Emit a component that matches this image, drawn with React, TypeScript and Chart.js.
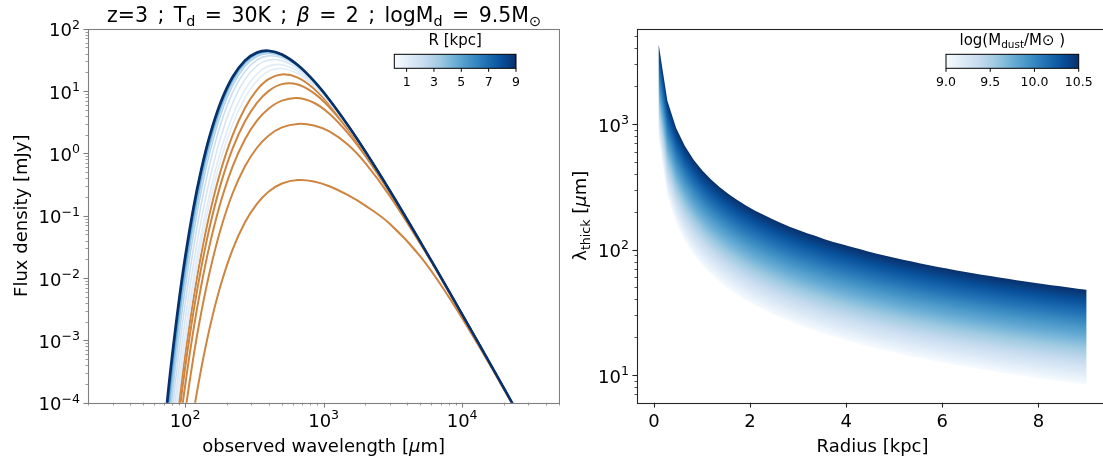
import React, { useEffect, useRef } from "react";
import { Chart, registerables } from "chart.js";

Chart.register(...registerables);

/* ================= Left panel: SEDs (z=3, Td=30K, beta=2, logMd=9.5) ================= */
const WAVELENGTH_UM = [70, 75, 80, 90, 100, 115, 130, 150, 180, 220, 270, 330, 400, 500, 650, 850, 1100, 1500, 2000, 3000, 5000, 8000, 13000, 20000, 30000];

// highlighted (orange) radii
const ORANGE_RADII_KPC = [0.1, 0.282, 0.463, 0.645, 0.827];
const FLUX_R0100 = [6.78e-9, 3.44e-8, 1.4e-7, 1.41e-6, 8.71e-6, 6.99e-5, 3.3e-4, 1.54e-3, 7.5e-3, 0.0286, 0.0778, 0.155, 0.243, 0.329, 0.374, 0.355, 0.297, 0.213, 0.145, 0.0742, 0.0221, 4.98e-3, 8.58e-4, 1.65e-4, 3.37e-5];
const FLUX_R0282 = [5.38e-8, 2.73e-7, 1.11e-6, 1.12e-5, 6.91e-5, 5.54e-4, 2.62e-3, 0.0122, 0.0595, 0.227, 0.617, 1.23, 1.92, 2.61, 2.97, 2.8, 2.25, 1.37, 0.696, 0.208, 0.0351, 6.04e-3, 9.25e-4, 1.7e-4, 3.42e-5];
const FLUX_R0463 = [1.46e-7, 7.38e-7, 3.01e-6, 3.03e-5, 1.87e-4, 1.5e-3, 7.09e-3, 0.0331, 0.161, 0.614, 1.67, 3.34, 5.21, 7.02, 7.73, 6.49, 4.33, 2.1, 0.906, 0.235, 0.0367, 6.15e-3, 9.32e-4, 1.71e-4, 3.43e-5];
const FLUX_R0645 = [2.82e-7, 1.43e-6, 5.83e-6, 5.86e-5, 3.62e-4, 2.91e-3, 0.0137, 0.0641, 0.312, 1.19, 3.24, 6.46, 9.98, 12.9, 12.7, 9.25, 5.49, 2.4, 0.981, 0.244, 0.0372, 6.18e-3, 9.34e-4, 1.71e-4, 3.43e-5];
const FLUX_R0827 = [4.63e-7, 2.35e-6, 9.58e-6, 9.63e-5, 5.95e-4, 4.77e-3, 0.0226, 0.105, 0.513, 1.95, 5.3, 10.4, 15.5, 18.5, 16.4, 10.9, 6.1, 2.55, 1.01, 0.248, 0.0374, 6.19e-3, 9.34e-4, 1.71e-4, 3.43e-5];

// blue family (colour-coded by R)
const BLUE_RADII_KPC = [1.008, 1.19, 1.553, 2.098, 2.824, 3.733, 4.822, 6.094, 7.547, 9.0];
const FLUX_R1008 = [6.89e-7, 3.49e-6, 1.42e-5, 1.43e-4, 8.86e-4, 7.1e-3, 0.0336, 0.157, 0.763, 2.9, 7.76, 14.7, 20.7, 23.0, 18.9, 12.0, 6.45, 2.63, 1.03, 0.25, 0.0375, 6.2e-3, 9.35e-4, 1.71e-4, 3.43e-5];
const FLUX_R1190 = [9.6e-7, 4.87e-6, 1.98e-5, 2.0e-4, 1.23e-3, 9.89e-3, 0.0468, 0.218, 1.06, 3.99, 10.4, 18.8, 25.1, 26.4, 20.7, 12.6, 6.67, 2.68, 1.04, 0.251, 0.0376, 6.2e-3, 9.35e-4, 1.71e-4, 3.43e-5];
const FLUX_R1553 = [1.64e-6, 8.29e-6, 3.38e-5, 3.4e-4, 2.1e-3, 0.0168, 0.0796, 0.37, 1.77, 6.35, 15.3, 25.3, 31.4, 30.7, 22.8, 13.4, 6.9, 2.73, 1.05, 0.252, 0.0377, 6.21e-3, 9.35e-4, 1.71e-4, 3.43e-5];
const FLUX_R2098 = [2.98e-6, 1.51e-5, 6.17e-5, 6.2e-4, 3.83e-3, 0.0306, 0.143, 0.644, 2.89, 9.45, 20.6, 31.5, 36.7, 34.1, 24.2, 13.9, 7.06, 2.76, 1.06, 0.253, 0.0377, 6.21e-3, 9.35e-4, 1.71e-4, 3.43e-5];
const FLUX_R2824 = [5.41e-6, 2.74e-5, 1.11e-4, 1.11e-3, 6.78e-3, 0.0524, 0.234, 0.993, 4.08, 12.2, 24.8, 35.8, 40.1, 36.2, 25.1, 14.2, 7.15, 2.78, 1.07, 0.253, 0.0377, 6.21e-3, 9.35e-4, 1.71e-4, 3.43e-5];
const FLUX_R3733 = [9.32e-6, 4.68e-5, 1.88e-4, 1.82e-3, 0.0107, 0.0778, 0.329, 1.31, 5.03, 14.2, 27.4, 38.4, 42.0, 37.3, 25.6, 14.3, 7.2, 2.79, 1.07, 0.253, 0.0377, 6.21e-3, 9.35e-4, 1.71e-4, 3.43e-5];
const FLUX_R4822 = [1.46e-5, 7.16e-5, 2.81e-4, 2.6e-3, 0.0146, 0.1, 0.407, 1.55, 5.67, 15.4, 29.0, 39.9, 43.2, 37.9, 25.8, 14.4, 7.22, 2.8, 1.07, 0.253, 0.0377, 6.21e-3, 9.36e-4, 1.71e-4, 3.42e-5];
const FLUX_R6094 = [2.02e-5, 9.67e-5, 3.71e-4, 3.28e-3, 0.0178, 0.117, 0.461, 1.71, 6.08, 16.1, 29.9, 40.7, 43.8, 38.3, 26.0, 14.5, 7.24, 2.8, 1.07, 0.253, 0.0378, 6.21e-3, 9.36e-4, 1.71e-4, 3.43e-5];
const FLUX_R7547 = [2.52e-5, 1.18e-4, 4.44e-4, 3.8e-3, 0.0201, 0.129, 0.498, 1.81, 6.33, 16.6, 30.5, 41.3, 44.2, 38.5, 26.1, 14.5, 7.24, 2.8, 1.07, 0.254, 0.0378, 6.21e-3, 9.36e-4, 1.71e-4, 3.43e-5];
const FLUX_R9000 = [2.89e-5, 1.33e-4, 4.94e-4, 4.15e-3, 0.0216, 0.137, 0.521, 1.87, 6.48, 16.8, 30.8, 41.5, 44.4, 38.6, 26.1, 14.5, 7.25, 2.8, 1.07, 0.254, 0.0378, 6.21e-3, 9.34e-4, 1.71e-4, 3.42e-5];

const ORANGE_FLUXES = [FLUX_R0100, FLUX_R0282, FLUX_R0463, FLUX_R0645, FLUX_R0827];
const BLUE_FLUXES = [FLUX_R1008, FLUX_R1190, FLUX_R1553, FLUX_R2098, FLUX_R2824, FLUX_R3733, FLUX_R4822, FLUX_R6094, FLUX_R7547, FLUX_R9000];

const LEFT_X_RANGE = [20, 50000];
const LEFT_Y_RANGE = [1e-4, 100];
const LEFT_X_TICKS = [100, 1000, 10000];
const LEFT_Y_TICKS = [1e-4, 1e-3, 1e-2, 1e-1, 1, 10, 100];
const R_CBAR_RANGE = [0.1, 9];
const R_CBAR_TICKS = [1, 3, 5, 7, 9];

/* ================= Right panel: lambda_thick vs radius ================= */
const RADIUS_KPC = [0.1, 0.282, 0.463, 0.645, 0.827, 1.008, 1.19, 1.371, 1.553, 1.735, 1.916, 2.098, 2.28, 2.461, 2.643, 2.824, 3.006, 3.188, 3.369, 3.551, 3.733, 3.914, 4.096, 4.278, 4.459, 4.641, 4.822, 5.004, 5.186, 5.367, 5.549, 5.731, 5.912, 6.094, 6.276, 6.457, 6.639, 6.82, 7.002, 7.184, 7.365, 7.547, 7.729, 7.91, 8.092, 8.273, 8.455, 8.637, 8.818, 9.0];
// log(Mdust/Msun) = 10.5 (upper, darkest edge)
const LAMBDA_THICK_M105 = [4300, 1527, 928, 667, 520, 426, 361, 314, 277, 248, 224, 205, 189, 175, 163, 152, 143, 135, 128, 121, 115, 110, 105, 101, 96.4, 92.7, 89.2, 85.9, 82.9, 80.1, 77.5, 75.0, 72.7, 70.6, 68.5, 66.6, 64.8, 63.0, 61.4, 59.9, 58.4, 57.0, 55.6, 54.4, 53.1, 52.0, 50.9, 49.8, 48.8, 47.8];
// log(Mdust/Msun) = 9.0 (lower, lightest edge)
const LAMBDA_THICK_M090 = [754, 268, 163, 117, 91.2, 74.8, 63.4, 55.0, 48.5, 43.5, 39.3, 35.9, 33.1, 30.6, 28.5, 26.7, 25.1, 23.7, 22.4, 21.2, 20.2, 19.3, 18.4, 17.6, 16.9, 16.2, 15.6, 15.1, 14.5, 14.0, 13.6, 13.2, 12.8, 12.4, 12.0, 11.7, 11.4, 11.1, 10.8, 10.5, 10.2, 9.99, 9.76, 9.53, 9.32, 9.11, 8.92, 8.73, 8.55, 8.38];
const LOGM_RANGE = [9.0, 10.5];
const LOGM_TICKS = [9.0, 9.5, 10.0, 10.5];
const RIGHT_X_RANGE = [-0.345, 9.445];
const RIGHT_Y_RANGE = [6.02, 5747];
const RIGHT_X_TICKS = [0, 2, 4, 6, 8];
const RIGHT_Y_TICKS = [10, 100, 1000];

/* ================= helpers ================= */
const FAMILY = '"DejaVu Sans", sans-serif';
const font = (px: number, italic = false) => `${italic ? "italic " : ""}${px}px ${FAMILY}`;
const ORANGE = "#cd853f";

const BLUES: [number, number[]][] = [
  [0, [247, 251, 255]], [0.125, [222, 235, 247]], [0.25, [198, 219, 239]], [0.375, [158, 202, 225]],
  [0.5, [107, 174, 214]], [0.625, [66, 146, 198]], [0.75, [33, 113, 181]], [0.875, [8, 81, 156]], [1, [8, 48, 107]],
];
const rgb = (c: number[]) => `rgb(${Math.round(c[0])},${Math.round(c[1])},${Math.round(c[2])})`;
function blues(t: number): string {
  t = Math.max(0, Math.min(1, t));
  for (let i = 0; i < BLUES.length - 1; i++) {
    const [t0, c0] = BLUES[i];
    const [t1, c1] = BLUES[i + 1];
    if (t <= t1) {
      const f = (t - t0) / (t1 - t0);
      return rgb([0, 1, 2].map((k) => c0[k] + f * (c1[k] - c0[k])));
    }
  }
  return rgb(BLUES[BLUES.length - 1][1]);
}

type Part = { t: string; sub?: boolean; sup?: boolean; it?: boolean };
function partsWidth(ctx: CanvasRenderingContext2D, parts: Part[], size: number) {
  let w = 0;
  for (const p of parts) {
    ctx.font = font(p.sub || p.sup ? size * 0.7 : size, p.it);
    w += ctx.measureText(p.t).width;
  }
  return w;
}
function drawParts(ctx: CanvasRenderingContext2D, parts: Part[], x: number, y: number, size: number) {
  let cx = x;
  ctx.textAlign = "left";
  ctx.textBaseline = "alphabetic";
  for (const p of parts) {
    ctx.font = font(p.sub || p.sup ? size * 0.7 : size, p.it);
    const dy = p.sub ? size * 0.2 : p.sup ? -size * 0.43 : 0;
    ctx.fillText(p.t, cx, y + dy);
    cx += ctx.measureText(p.t).width;
  }
}
function drawCentered(ctx: CanvasRenderingContext2D, parts: Part[], cx: number, y: number, size: number) {
  drawParts(ctx, parts, cx - partsWidth(ctx, parts, size) / 2, y, size);
}
// groups of parts laid out between x0 and x1 with equal gaps (mathtext-like spacing)
function drawSpread(ctx: CanvasRenderingContext2D, groups: Part[][], x0: number, x1: number, y: number, size: number) {
  const widths = groups.map((g) => partsWidth(ctx, g, size));
  const total = widths.reduce((s, w) => s + w, 0);
  const gap = (x1 - x0 - total) / (groups.length - 1);
  let x = x0;
  groups.forEach((g, i) => {
    drawParts(ctx, g, x, y, size);
    x += widths[i] + gap;
  });
}
function drawRotated(ctx: CanvasRenderingContext2D, parts: Part[], bx: number, cy: number, size: number) {
  ctx.save();
  ctx.translate(bx, cy);
  ctx.rotate(-Math.PI / 2);
  drawCentered(ctx, parts, 0, 0, size);
  ctx.restore();
}
const powParts = (v: number): Part[] => {
  const e = Math.round(Math.log10(v));
  return [{ t: "10" }, { t: e < 0 ? "\u2212" + Math.abs(e) : String(e), sup: true }];
};

function minorLog(min: number, max: number): number[] {
  const out: number[] = [];
  for (let d = Math.floor(Math.log10(min)) - 1; d <= Math.ceil(Math.log10(max)); d++) {
    for (let m = 2; m <= 9; m++) {
      const v = m * Math.pow(10, d);
      if (v >= min * 0.999 && v <= max * 1.001) out.push(v);
    }
  }
  return out;
}

function tick(ctx: CanvasRenderingContext2D, axis: "x" | "y", pos: number, a: any, len: number, w: number, color: string) {
  ctx.strokeStyle = color;
  ctx.lineWidth = w;
  ctx.beginPath();
  if (axis === "x") {
    const x = Math.round(pos) + 0.5;
    ctx.moveTo(x, a.bottom);
    ctx.lineTo(x, a.bottom + len);
  } else {
    const y = Math.round(pos) + 0.5;
    ctx.moveTo(a.left, y);
    ctx.lineTo(a.left - len, y);
  }
  ctx.stroke();
}

function frame(ctx: CanvasRenderingContext2D, a: any, color: string) {
  ctx.strokeStyle = color;
  ctx.lineWidth = 1.1;
  ctx.strokeRect(Math.round(a.left) + 0.5, Math.round(a.top) + 0.5, Math.round(a.right) - Math.round(a.left), Math.round(a.bottom) - Math.round(a.top));
}

function colorbar(ctx: CanvasRenderingContext2D, x: number, y: number, w: number, h: number, range: number[], ticks: number[], fmt: (v: number) => string, title: Part[]) {
  const g = ctx.createLinearGradient(x, 0, x + w, 0);
  BLUES.forEach(([t, c]) => g.addColorStop(t, rgb(c)));
  ctx.fillStyle = g;
  ctx.fillRect(x, y, w, h);
  ctx.strokeStyle = "#000";
  ctx.lineWidth = 1;
  ctx.strokeRect(x, y, w, h);
  ctx.fillStyle = "#000";
  for (const v of ticks) {
    const px = x + ((v - range[0]) / (range[1] - range[0])) * w;
    ctx.beginPath();
    ctx.moveTo(px, y + h);
    ctx.lineTo(px, y + h + 3.5);
    ctx.stroke();
    ctx.font = font(12.5);
    ctx.textAlign = "center";
    ctx.textBaseline = "alphabetic";
    ctx.fillText(fmt(v), px, y + h + 18);
  }
  drawCentered(ctx, title, x + w / 2, y - 9.5, 15);
}

const fixedScale = (type: string, range: number[], size: number, horizontal: boolean) => ({
  type,
  min: range[0],
  max: range[1],
  bounds: "data",
  ticks: { display: false },
  grid: { display: false },
  border: { display: false },
  afterFit: (s: any) => {
    if (horizontal) s.height = size;
    else s.width = size;
  },
});

/* ================= chart configs ================= */
function leftConfig(): any {
  const datasets: any[] = [];
  for (let i = BLUE_RADII_KPC.length - 1; i >= 0; i--) {
    const t = (BLUE_RADII_KPC[i] - R_CBAR_RANGE[0]) / (R_CBAR_RANGE[1] - R_CBAR_RANGE[0]);
    datasets.push({
      data: WAVELENGTH_UM.map((x, k) => ({ x, y: BLUE_FLUXES[i][k] })),
      borderColor: blues(t),
      borderWidth: i === BLUE_RADII_KPC.length - 1 ? 2.6 : 1.6,
      pointRadius: 0,
      fill: false,
      tension: 0.4,
    });
  }
  for (let i = ORANGE_RADII_KPC.length - 1; i >= 0; i--) {
    datasets.push({
      data: WAVELENGTH_UM.map((x, k) => ({ x, y: ORANGE_FLUXES[i][k] })),
      borderColor: ORANGE,
      borderWidth: 2,
      pointRadius: 0,
      fill: false,
      tension: 0.4,
    });
  }
  const decor = {
    id: "leftDecor",
    afterDraw(chart: any) {
      const { ctx, chartArea: a, scales } = chart;
      const xs = scales.x, ys = scales.y;
      const axisColor = "#808080";
      ctx.save();
      frame(ctx, a, axisColor);
      for (const v of minorLog(LEFT_X_RANGE[0], LEFT_X_RANGE[1])) tick(ctx, "x", xs.getPixelForValue(v), a, 2.8, 0.8, axisColor);
      for (const v of minorLog(LEFT_Y_RANGE[0], LEFT_Y_RANGE[1])) tick(ctx, "y", ys.getPixelForValue(v), a, 2.8, 0.8, axisColor);
      for (const v of LEFT_X_TICKS) {
        const px = xs.getPixelForValue(v);
        tick(ctx, "x", px, a, 4.9, 1.1, axisColor);
        ctx.fillStyle = "#000";
        drawCentered(ctx, powParts(v), px, a.bottom + 24, 18);
      }
      for (const v of LEFT_Y_TICKS) {
        const py = ys.getPixelForValue(v);
        tick(ctx, "y", py, a, 4.9, 1.1, axisColor);
        ctx.fillStyle = "#000";
        const parts = powParts(v);
        drawParts(ctx, parts, a.left - 8.3 - partsWidth(ctx, parts, 18), py + 7.6, 18);
      }
      ctx.fillStyle = "#000";
      const cx = (a.left + a.right) / 2;
      drawCentered(ctx, [{ t: "observed wavelength [" }, { t: "\u03bc", it: true }, { t: "m]" }], cx, 452, 18);
      drawRotated(ctx, [{ t: "Flux density [mJy]" }], 26.5, (a.top + a.bottom) / 2, 18);
      drawSpread(
        ctx,
        [
          [{ t: "z=3" }], [{ t: ";" }], [{ t: "T" }, { t: "d", sub: true }], [{ t: "=" }], [{ t: "30K" }], [{ t: ";" }],
          [{ t: "\u03b2", it: true }], [{ t: "=" }], [{ t: "2" }], [{ t: ";" }], [{ t: "logM" }, { t: "d", sub: true }],
          [{ t: "=" }], [{ t: "9.5M" }, { t: "\u2299", sub: true }],
        ],
        107, 541, 22, 20.5
      );
      colorbar(ctx, 394.3, 54.3, 121.7, 14, R_CBAR_RANGE, R_CBAR_TICKS, (v) => String(v), [{ t: "R [kpc]" }]);
      ctx.restore();
    },
  };
  return {
    type: "line",
    data: { datasets },
    options: {
      responsive: false,
      animation: false,
      devicePixelRatio: 1,
      elements: { line: { capBezierPoints: false } },
      layout: { padding: { top: 28.7, right: 1, bottom: 0, left: 0 } },
      plugins: { legend: { display: false }, tooltip: { enabled: false }, title: { display: false } },
      scales: {
        x: fixedScale("logarithmic", LEFT_X_RANGE, 461 - 402.7, true),
        y: fixedScale("logarithmic", LEFT_Y_RANGE, 88.3, false),
      },
    },
    plugins: [decor],
  };
}

function rightConfig(): any {
  const band = {
    id: "band",
    beforeDatasetsDraw(chart: any) {
      const { ctx, chartArea: a } = chart;
      const top = chart.getDatasetMeta(0).data as any[];
      const bot = chart.getDatasetMeta(1).data as any[];
      ctx.save();
      ctx.beginPath();
      ctx.rect(a.left, a.top, a.right - a.left, a.bottom - a.top);
      ctx.clip();
      ctx.beginPath();
      top.forEach((p, i) => (i ? ctx.lineTo(p.x, p.y) : ctx.moveTo(p.x, p.y)));
      for (let i = bot.length - 1; i >= 0; i--) ctx.lineTo(bot[i].x, bot[i].y);
      ctx.closePath();
      ctx.clip();
      const x0 = top[0].x, x1 = top[top.length - 1].x;
      let seg = 0;
      for (let px = Math.floor(x0); px < Math.ceil(x1); px++) {
        const cx = Math.min(Math.max(px + 0.5, x0), x1);
        while (seg < top.length - 2 && top[seg + 1].x < cx) seg++;
        const f = (cx - top[seg].x) / (top[seg + 1].x - top[seg].x);
        const yT = top[seg].y + f * (top[seg + 1].y - top[seg].y);
        const yB = bot[seg].y + f * (bot[seg + 1].y - bot[seg].y);
        const g = ctx.createLinearGradient(0, yT, 0, yB);
        BLUES.forEach(([t, c]) => g.addColorStop(1 - t, rgb(c)));
        ctx.fillStyle = g;
        ctx.fillRect(px, yT - 40, 1, yB - yT + 80);
      }
      ctx.restore();
    },
    afterDraw(chart: any) {
      const { ctx, chartArea: a, scales } = chart;
      const xs = scales.x, ys = scales.y;
      const axisColor = "#262626";
      ctx.save();
      frame(ctx, a, axisColor);
      for (const v of minorLog(RIGHT_Y_RANGE[0], RIGHT_Y_RANGE[1])) tick(ctx, "y", ys.getPixelForValue(v), a, 2.8, 0.8, axisColor);
      for (const v of RIGHT_X_TICKS) {
        const px = xs.getPixelForValue(v);
        tick(ctx, "x", px, a, 4.9, 1.1, axisColor);
        ctx.fillStyle = "#000";
        drawCentered(ctx, [{ t: String(v) }], px, a.bottom + 24, 18);
      }
      for (const v of RIGHT_Y_TICKS) {
        const py = ys.getPixelForValue(v);
        tick(ctx, "y", py, a, 4.9, 1.1, axisColor);
        ctx.fillStyle = "#000";
        const parts = powParts(v);
        drawParts(ctx, parts, a.left - 8.3 - partsWidth(ctx, parts, 18), py + 7.6, 18);
      }
      ctx.fillStyle = "#000";
      drawCentered(ctx, [{ t: "Radius [kpc]" }], (a.left + a.right) / 2, 452, 18);
      drawRotated(
        ctx,
        [{ t: "\u03bb" }, { t: "thick", sub: true }, { t: " [" }, { t: "\u03bc", it: true }, { t: "m]" }],
        26, (a.top + a.bottom) / 2, 18
      );
      colorbar(ctx, 946 - 560, 54.3, 132.7, 14, LOGM_RANGE, LOGM_TICKS, (v) => v.toFixed(1), [
        { t: "log(M" }, { t: "dust", sub: true }, { t: "/M\u2299 )" },
      ]);
      ctx.restore();
    },
  };
  return {
    type: "line",
    data: {
      datasets: [
        { data: RADIUS_KPC.map((x, i) => ({ x, y: LAMBDA_THICK_M105[i] })), showLine: false, pointRadius: 0, borderWidth: 0 },
        { data: RADIUS_KPC.map((x, i) => ({ x, y: LAMBDA_THICK_M090[i] })), showLine: false, pointRadius: 0, borderWidth: 0 },
      ],
    },
    options: {
      responsive: false,
      animation: false,
      devicePixelRatio: 1,
      layout: { padding: { top: 28.7, right: 560 - 547.8, bottom: 0, left: 0 } },
      plugins: { legend: { display: false }, tooltip: { enabled: false }, title: { display: false } },
      scales: {
        x: fixedScale("linear", RIGHT_X_RANGE, 461 - 402.7, true),
        y: fixedScale("logarithmic", RIGHT_Y_RANGE, 637.3 - 560, false),
      },
    },
    plugins: [band],
  };
}

export default function App() {
  const leftRef = useRef<HTMLCanvasElement>(null);
  const rightRef = useRef<HTMLCanvasElement>(null);
  useEffect(() => {
    const c1 = new Chart(leftRef.current as HTMLCanvasElement, leftConfig());
    const c2 = new Chart(rightRef.current as HTMLCanvasElement, rightConfig());
    return () => {
      c1.destroy();
      c2.destroy();
    };
  }, []);
  return (
    <div style={{ position: "absolute", left: 0, top: 0, width: 1103, height: 461, overflow: "hidden", background: "#fff" }}>
      <canvas ref={leftRef} width={560} height={461} style={{ position: "absolute", left: 0, top: 0, width: 560, height: 461 }} />
      <canvas ref={rightRef} width={560} height={461} style={{ position: "absolute", left: 560, top: 0, width: 560, height: 461 }} />
    </div>
  );
}
